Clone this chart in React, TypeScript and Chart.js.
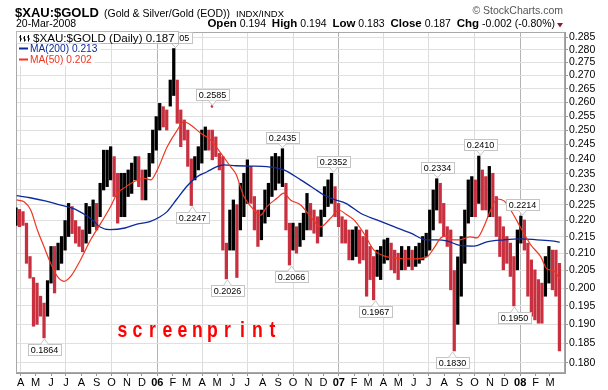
import React, { useEffect, useRef } from 'react';
import { Chart, registerables } from 'chart.js';

Chart.register(...registerables);

const FONT = '"Liberation Sans", Arial, Helvetica, sans-serif';
const BAR_UP = '#000000';
const BAR_DOWN = '#c8303f';
const MA200_COLOR = '#0c2a9c';
const MA50_COLOR = '#f0341f';

// header values
const symbol = '$XAU:$GOLD';
const description = '(Gold & Silver/Gold (EOD))';
const exchange = 'INDX/INDX';
const lastDate = '20-Mar-2008';
const lastOpen = '0.194';
const lastHigh = '0.194';
const lastLow = '0.183';
const lastClose = 0.187;
const lastChg = '-0.002 (-0.80%)';
const ma200Last = 0.213;
const ma50Last = 0.202;

// weekly bar samples from 2005-03-22 to 2008-03-20 (days counted from 2005-04-01)
const firstBarDay = -9.5;
const lastBarDay = 1084;
const barLows = [
  0.2185, 0.2181, 0.2185, 0.2071, 0.2028, 0.1895, 0.1900, 0.1922, 0.1864, 0.1922,
  0.2014, 0.1986, 0.2052, 0.2071, 0.2110, 0.2151, 0.2160, 0.2131, 0.2121, 0.2105,
  0.2131, 0.2160, 0.2181, 0.2171, 0.2212, 0.2297, 0.2308, 0.2330, 0.2276, 0.2192,
  0.2212, 0.2212, 0.2276, 0.2286, 0.2330, 0.2308, 0.2265, 0.2265, 0.2341, 0.2386,
  0.2430, 0.2500, 0.2511, 0.2500, 0.2586, 0.2625, 0.2524, 0.2442, 0.2465, 0.2375,
  0.2247, 0.2330, 0.2363, 0.2386, 0.2430, 0.2430, 0.2397, 0.2408, 0.2363, 0.2110,
  0.2026, 0.2110, 0.2110, 0.2030, 0.2171, 0.2212, 0.2254, 0.2254, 0.2171, 0.2121,
  0.2141, 0.2192, 0.2212, 0.2276, 0.2297, 0.2319, 0.2308, 0.2171, 0.2066, 0.2110,
  0.2101, 0.2121, 0.2141, 0.2171, 0.2171, 0.2161, 0.2131, 0.2151, 0.2212, 0.2244,
  0.2254, 0.2212, 0.2181, 0.2131, 0.2131, 0.2081, 0.2081, 0.2091, 0.2071, 0.2081,
  0.1977, 0.2024, 0.1967, 0.2033, 0.2024, 0.2071, 0.2081, 0.2052, 0.2043, 0.2024,
  0.2052, 0.2052, 0.2062, 0.2052, 0.2062, 0.2071, 0.2081, 0.2091, 0.2110, 0.2171,
  0.2233, 0.2192, 0.2151, 0.2121, 0.1995, 0.1830, 0.1900, 0.1977, 0.2071, 0.2192,
  0.2212, 0.2212, 0.2254, 0.2233, 0.2233, 0.2212, 0.2212, 0.2151, 0.2091, 0.2052,
  0.2071, 0.2033, 0.1950, 0.2052, 0.2131, 0.2110, 0.1977, 0.1922, 0.1912, 0.1903,
  0.1903, 0.1977, 0.2014, 0.1995, 0.1977, 0.1830,
];
const barHighs = [
  0.2240, 0.2235, 0.2228, 0.2192, 0.2091, 0.2030, 0.2014, 0.1977, 0.1958, 0.2021,
  0.2121, 0.2121, 0.2131, 0.2151, 0.2200, 0.2254, 0.2244, 0.2200, 0.2181, 0.2171,
  0.2254, 0.2244, 0.2265, 0.2254, 0.2319, 0.2430, 0.2430, 0.2442, 0.2408, 0.2352,
  0.2352, 0.2352, 0.2363, 0.2386, 0.2408, 0.2408, 0.2363, 0.2363, 0.2419, 0.2500,
  0.2548, 0.2596, 0.2584, 0.2572, 0.2683, 0.2805, 0.2683, 0.2572, 0.2536, 0.2500,
  0.2400, 0.2408, 0.2442, 0.2500, 0.2511, 0.2500, 0.2500, 0.2476, 0.2419, 0.2408,
  0.2131, 0.2233, 0.2265, 0.2250, 0.2319, 0.2352, 0.2397, 0.2375, 0.2276, 0.2233,
  0.2233, 0.2297, 0.2319, 0.2408, 0.2419, 0.2408, 0.2435, 0.2319, 0.2192, 0.2192,
  0.2181, 0.2192, 0.2223, 0.2286, 0.2254, 0.2233, 0.2212, 0.2233, 0.2308, 0.2330,
  0.2352, 0.2308, 0.2254, 0.2212, 0.2202, 0.2171, 0.2171, 0.2181, 0.2171, 0.2151,
  0.2171, 0.2121, 0.2091, 0.2110, 0.2121, 0.2141, 0.2146, 0.2131, 0.2110, 0.2101,
  0.2121, 0.2110, 0.2121, 0.2110, 0.2121, 0.2131, 0.2151, 0.2161, 0.2233, 0.2297,
  0.2334, 0.2319, 0.2254, 0.2181, 0.2171, 0.2050, 0.2090, 0.2151, 0.2233, 0.2330,
  0.2341, 0.2330, 0.2410, 0.2363, 0.2341, 0.2375, 0.2352, 0.2276, 0.2212, 0.2181,
  0.2151, 0.2131, 0.2091, 0.2171, 0.2214, 0.2202, 0.2131, 0.2081, 0.2052, 0.2024,
  0.2014, 0.2091, 0.2121, 0.2110, 0.2110, 0.2071,
];

// moving averages, sampled at (fractional) bar positions
const ma200Pos = [0.2, 4.0, 8.3, 12.5, 16.8, 19.7, 22.0, 24.0, 26.8, 31.1, 34.5, 38.2, 41.1, 43.1, 45.9, 48.8, 51.6, 54.5, 57.3, 59.3, 62.7, 67.0, 71.6, 76.4, 81.2, 85.0, 87.8, 90.7, 94.1, 98.4, 102.9, 107.8, 112.6, 117.2, 120.0, 122.9, 126.6, 130.6, 134.3, 139.2, 144.0, 148.6, 153.4, 155.1];
const ma200Vals = [0.2279, 0.2272, 0.2262, 0.2249, 0.2236, 0.2218, 0.2200, 0.2180, 0.2172, 0.2177, 0.2189, 0.2197, 0.2212, 0.2228, 0.2268, 0.2310, 0.2340, 0.2357, 0.2374, 0.2380, 0.2377, 0.2376, 0.2374, 0.2363, 0.2330, 0.2302, 0.2281, 0.2267, 0.2254, 0.2222, 0.2202, 0.2181, 0.2161, 0.2141, 0.2141, 0.2138, 0.2124, 0.2122, 0.2135, 0.2141, 0.2144, 0.2141, 0.2137, 0.2134];
const ma50Pos = [0.2, 2.3, 4.2, 6.1, 8.0, 9.9, 11.8, 13.7, 15.6, 18.4, 21.3, 24.2, 27.0, 28.9, 31.4, 33.6, 36.5, 38.4, 40.3, 43.1, 46.0, 47.9, 49.8, 52.7, 55.5, 58.4, 61.2, 62.7, 65.0, 67.9, 69.8, 71.6, 74.5, 76.4, 78.3, 81.2, 84.0, 86.9, 89.7, 92.1, 94.1, 96.4, 99.2, 102.1, 104.9, 107.8, 110.6, 113.5, 117.2, 119.2, 121.2, 122.9, 124.6, 126.6, 129.5, 131.5, 133.4, 135.4, 137.2, 139.2, 141.1, 144.0, 146.8, 149.7, 151.4, 153.4, 155.1];
const ma50Vals = [0.2265, 0.2259, 0.2233, 0.2171, 0.2120, 0.2071, 0.2033, 0.2019, 0.2033, 0.2081, 0.2141, 0.2192, 0.2244, 0.2286, 0.2308, 0.2324, 0.2335, 0.2330, 0.2363, 0.2441, 0.2500, 0.2530, 0.2518, 0.2489, 0.2465, 0.2420, 0.2374, 0.2350, 0.2276, 0.2233, 0.2217, 0.2244, 0.2271, 0.2287, 0.2265, 0.2249, 0.2212, 0.2181, 0.2207, 0.2233, 0.2220, 0.2202, 0.2161, 0.2110, 0.2093, 0.2087, 0.2084, 0.2084, 0.2090, 0.2116, 0.2147, 0.2153, 0.2141, 0.2141, 0.2150, 0.2147, 0.2180, 0.2233, 0.2268, 0.2262, 0.2233, 0.2177, 0.2126, 0.2090, 0.2055, 0.2049, 0.2026];

// stray print
const outlierPos = 55.9;
const outlierVal = 0.2585;

// peak / trough call-outs
const annPos = [8.0, 45.3, 55.9, 50.1, 60.3, 75.9, 78.3, 90.3, 102.3, 120.1, 124.5, 132.3, 144.2, 142.0];
const annVals = [0.1864, 0.2805, 0.2585, 0.2247, 0.2026, 0.2435, 0.2066, 0.2352, 0.1967, 0.2334, 0.1830, 0.2410, 0.2214, 0.1950];
const annSide = ['below', 'above', 'above', 'below', 'below', 'above', 'below', 'above', 'below', 'above', 'below', 'above', 'above', 'below'];

const yTickValues = [0.180, 0.185, 0.190, 0.195, 0.200, 0.205, 0.210, 0.215, 0.220, 0.225, 0.230, 0.235, 0.240, 0.245, 0.250, 0.255, 0.260, 0.265, 0.270, 0.275, 0.280, 0.285];
const monthLetters = ['J', 'F', 'M', 'A', 'M', 'J', 'J', 'A', 'S', 'O', 'N', 'D'];

const yMin = 0.17738;
const yMax = 0.28714;
const xMin = -9.46;
const xMax = 1095.2;

const DAY_MS = 86400000;
const baseUTC = Date.UTC(2005, 3, 1);
type MonthTick = { value: number; label: string; year: boolean; quarter: boolean };
const monthTicks: MonthTick[] = [];
for (let k = 0; k < 36; k++) {
  const yy = 2005 + Math.floor((3 + k) / 12);
  const mm = (3 + k) % 12;
  monthTicks.push({
    value: (Date.UTC(yy, mm, 1) - baseUTC) / DAY_MS,
    label: mm === 0 ? String(yy).slice(2) : monthLetters[mm],
    year: mm === 0,
    quarter: mm % 3 === 0,
  });
}
const findTick = (v: number | undefined) =>
  v === undefined ? undefined : monthTicks.find((t) => Math.abs(t.value - v) < 0.01);

const dayOfBar = (p: number) => firstBarDay + (p * (lastBarDay - firstBarDay)) / (barLows.length - 1);

const mids = barLows.map((l, i) => (l + barHighs[i]) / 2);
const barColors = mids.map((m, i) => (i > 0 && m < mids[i - 1] ? BAR_DOWN : BAR_UP));

const decor = {
  id: 'decor',
  beforeDatasetsDraw(chart: any) {
    const { ctx, chartArea: a } = chart;
    ctx.save();
    ctx.strokeStyle = '#a8a8a8';
    ctx.lineWidth = 1;
    ctx.strokeRect(a.left + 0.5, a.top + 0.5, a.right - a.left - 1, a.bottom - a.top - 1);
    ctx.restore();
  },
  afterDatasetsDraw(chart: any) {
    const { ctx } = chart;
    const xs = chart.scales.x;
    const ys = chart.scales.y;
    ctx.save();
    ctx.font = `9px ${FONT}`;
    ctx.lineWidth = 1;
    annPos.forEach((p, k) => {
      const px = Math.round(xs.getPixelForValue(dayOfBar(p))) + 0.5;
      const py = ys.getPixelForValue(annVals[k]);
      const label = annVals[k].toFixed(4);
      const bw = Math.round(ctx.measureText(label).width) + 5;
      const bh = 11;
      const above = annSide[k] === 'above';
      const bx = Math.round(px - bw / 2) + 0.5;
      const by = Math.round(above ? py - 6 - bh : py + 6) + 0.5;
      ctx.fillStyle = '#ffffff';
      ctx.fillRect(bx, by, bw, bh);
      ctx.strokeStyle = '#c4c4c4';
      ctx.strokeRect(bx, by, bw, bh);
      const edge = above ? by + bh : by;
      const tip = above ? py - 1 : py + 1;
      ctx.beginPath();
      ctx.moveTo(px - 4, edge);
      ctx.lineTo(px, tip);
      ctx.lineTo(px + 4, edge);
      ctx.fillStyle = '#ffffff';
      ctx.fill();
      ctx.stroke();
      ctx.fillStyle = '#000000';
      ctx.textAlign = 'center';
      ctx.textBaseline = 'middle';
      ctx.fillText(label, px, by + bh / 2 + 0.5);
    });
    // watermark
    ctx.fillStyle = '#ff0000';
    ctx.font = `bold 22px ${FONT}`;
    ctx.textAlign = 'center';
    ctx.textBaseline = 'alphabetic';
    'screenprint'.split('').forEach((c, k) => {
      ctx.save();
      ctx.translate(122.5 + k * 15, 336.5);
      ctx.scale(0.8, 1);
      ctx.fillText(c, 0, 0);
      ctx.restore();
    });
    ctx.restore();
  },
  afterDraw(chart: any) {
    const { ctx } = chart;
    ctx.save();
    ctx.textAlign = 'left';
    ctx.textBaseline = 'alphabetic';
    ctx.fillStyle = '#000';
    ctx.font = `bold 13px ${FONT}`;
    ctx.fillText(symbol, 15, 17);
    ctx.font = `10.5px ${FONT}`;
    ctx.fillText(description, 104, 17);
    ctx.font = `9.5px ${FONT}`;
    ctx.fillText(exchange, 236, 17);
    ctx.font = `10.5px ${FONT}`;
    ctx.fillText(lastDate, 16, 27);

    // copyright
    ctx.fillStyle = '#555';
    ctx.font = `10.5px ${FONT}`;
    ctx.textAlign = 'right';
    ctx.fillText('\u00A9 StockCharts.com', 563, 14);
    ctx.textAlign = 'left';

    // summary line
    const segs: [string, boolean][] = [
      ['Open', true], [` ${lastOpen}  `, false],
      ['High', true], [` ${lastHigh}  `, false],
      ['Low', true], [` ${lastLow}  `, false],
      ['Close', true], [` ${lastClose.toFixed(3)}  `, false],
      ['Chg', true], [` ${lastChg}`, false],
    ];
    const fontFor = (b: boolean) => (b ? `bold 11.5px ${FONT}` : `10.5px ${FONT}`);
    let total = 0;
    segs.forEach(([t, b]) => { ctx.font = fontFor(b); total += ctx.measureText(t).width; });
    let x = 555 - total;
    ctx.fillStyle = '#000';
    segs.forEach(([t, b]) => { ctx.font = fontFor(b); ctx.fillText(t, x, 27); x += ctx.measureText(t).width; });
    ctx.fillStyle = '#8c1c2c';
    ctx.beginPath();
    ctx.moveTo(557, 23);
    ctx.lineTo(563, 23);
    ctx.lineTo(560, 27.5);
    ctx.closePath();
    ctx.fill();

    // legend box
    ctx.font = `11.6px ${FONT}`;
    const lt = `${symbol} (Daily) ${lastClose.toFixed(3)}`;
    ctx.fillStyle = '#fff';
    ctx.fillRect(16.5, 31.5, 162, 12);
    ctx.strokeStyle = '#b8b8b8';
    ctx.lineWidth = 1;
    ctx.strokeRect(16.5, 31.5, 162, 12);
    // small ohlc icon
    ctx.strokeStyle = '#000';
    ctx.beginPath();
    [20.5, 24.5, 28.5].forEach((ix, n) => {
      const t0 = 35 + (n % 2);
      ctx.moveTo(ix, t0);
      ctx.lineTo(ix, 41.5);
      ctx.moveTo(ix - 1.5, t0 + 2);
      ctx.lineTo(ix, t0 + 2);
      ctx.moveTo(ix, t0 + 4);
      ctx.lineTo(ix + 1.5, t0 + 4);
    });
    ctx.stroke();
    ctx.fillStyle = '#000';
    ctx.fillText(lt, 33, 41.5);

    // MA legend entries
    ctx.font = `10.2px ${FONT}`;
    const maEntries: [string, string, number][] = [
      [`MA(200) ${ma200Last.toFixed(3)}`, MA200_COLOR, 48.5],
      [`MA(50) ${ma50Last.toFixed(3)}`, MA50_COLOR, 59.5],
    ];
    maEntries.forEach(([t, c, cy]) => {
      const w = ctx.measureText(t).width;
      ctx.fillStyle = '#fff';
      ctx.fillRect(17, cy - 5, 14 + w + 2, 11);
      ctx.strokeStyle = c;
      ctx.lineWidth = 2;
      ctx.beginPath();
      ctx.moveTo(19, cy);
      ctx.lineTo(28, cy);
      ctx.stroke();
      ctx.fillStyle = c;
      ctx.fillText(t, 30, cy + 3.6);
    });
    ctx.restore();
  },
};

export default function App() {
  const ref = useRef<HTMLCanvasElement>(null);
  useEffect(() => {
    document.body.style.margin = '0';
    const canvas = ref.current;
    if (!canvas) return;
    const bars = barLows.map((lo, i) => ({ x: dayOfBar(i), y: [lo, barHighs[i]] }));
    const ma200 = ma200Pos.map((p, i) => ({ x: dayOfBar(p), y: ma200Vals[i] }));
    const ma50 = ma50Pos.map((p, i) => ({ x: dayOfBar(p), y: ma50Vals[i] }));
    const chart = new Chart(canvas, {
      type: 'bar',
      data: {
        datasets: [
          {
            type: 'scatter',
            data: [{ x: dayOfBar(outlierPos), y: outlierVal }],
            pointRadius: 1.3,
            pointBackgroundColor: BAR_DOWN,
            pointBorderWidth: 0,
            order: 0,
          } as any,
          {
            type: 'line',
            data: ma50,
            borderColor: MA50_COLOR,
            borderWidth: 1.2,
            pointRadius: 0,
            cubicInterpolationMode: 'monotone',
            order: 1,
          } as any,
          {
            type: 'line',
            data: ma200,
            borderColor: MA200_COLOR,
            borderWidth: 1.3,
            pointRadius: 0,
            cubicInterpolationMode: 'monotone',
            order: 2,
          } as any,
          {
            type: 'bar',
            data: bars,
            backgroundColor: barColors,
            borderWidth: 0,
            barThickness: 2.6,
            grouped: false,
            order: 3,
          } as any,
        ],
      },
      options: {
        animation: false,
        responsive: true,
        maintainAspectRatio: false,
        devicePixelRatio: 1,
        layout: { padding: { left: 16, top: 32, right: 0, bottom: 0 } },
        plugins: { legend: { display: false }, tooltip: { enabled: false } },
        scales: {
          x: {
            type: 'linear',
            min: xMin,
            max: xMax,
            offset: false,
            afterBuildTicks: (s: any) => {
              s.ticks = monthTicks.map((t) => ({ value: t.value }));
            },
            afterFit: (s: any) => {
              s.height = 17;
            },
            grid: {
              offset: false,
              drawTicks: true,
              tickLength: 3,
              tickColor: '#999',
              color: (c: any) => {
                const t = findTick(c.tick?.value);
                if (!t) return 'rgba(0,0,0,0)';
                if (t.year) return '#b4b4b4';
                if (t.quarter) return '#dcdcdc';
                return 'rgba(0,0,0,0)';
              },
            },
            border: { display: true, color: '#999' },
            ticks: {
              autoSkip: false,
              maxRotation: 0,
              minRotation: 0,
              padding: 0,
              color: '#000',
              font: (c: any) => {
                const t = findTick(c.tick?.value);
                return { family: FONT, size: 11, weight: t && t.year ? 'bold' : 'normal' };
              },
              callback: (v: any) => {
                const t = findTick(Number(v));
                return t ? t.label : '';
              },
            },
          } as any,
          y: {
            type: 'logarithmic',
            position: 'right',
            min: yMin,
            max: yMax,
            afterBuildTicks: (s: any) => {
              s.ticks = yTickValues.map((v) => ({ value: v }));
            },
            afterFit: (s: any) => {
              s.width = 43;
            },
            grid: { color: '#e0e0e0', tickColor: '#999', tickLength: 3 },
            border: { display: true, color: '#999' },
            ticks: {
              padding: 1,
              color: '#000',
              autoSkip: false,
              font: { family: FONT, size: 10.5 },
              callback: (v: any) => Number(v).toFixed(3),
            },
          } as any,
        },
      },
      plugins: [decor],
    });
    return () => chart.destroy();
  }, []);
  return (
    <div style={{ position: 'absolute', left: 0, top: 0, width: 608, height: 390, background: '#fff' }}>
      <canvas ref={ref} />
    </div>
  );
}
